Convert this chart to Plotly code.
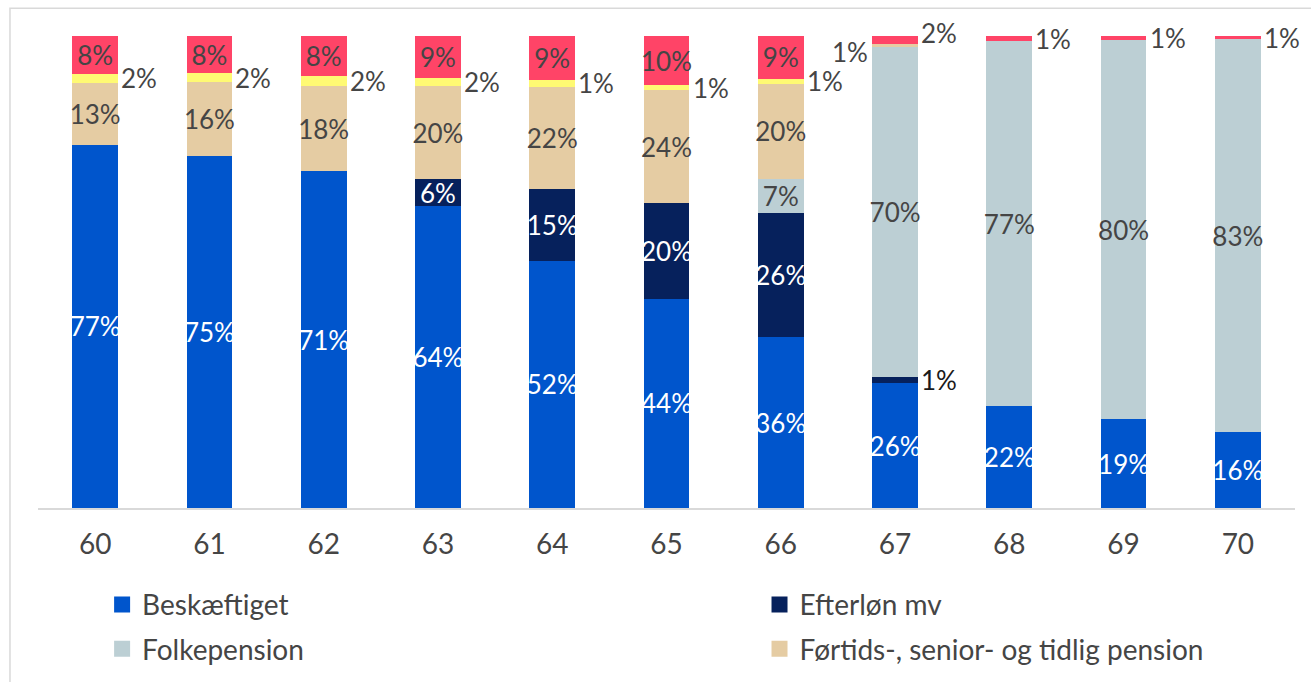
import plotly.graph_objects as go

ages = ["60", "61", "62", "63", "64", "65", "66", "67", "68", "69", "70"]

beskaeftiget = [77.0, 74.6, 71.3, 64.0, 52.4, 44.3, 36.2, 26.4, 21.6, 18.8, 16.1]
efterloen = [0.0, 0.0, 0.0, 5.6, 15.1, 20.3, 26.2, 1.3, 0.0, 0.0, 0.0]
folkepension = [0.0, 0.0, 0.0, 0.0, 0.0, 0.0, 7.3, 70.0, 77.3, 80.3, 83.2]
foertids = [13.0, 15.7, 18.2, 19.8, 21.8, 23.9, 20.2, 0.7, 0.0, 0.0, 0.0]
andet = [2.0, 1.8, 2.1, 1.7, 1.4, 1.1, 1.0, 0.0, 0.0, 0.0, 0.0]
oevrige = [8.0, 7.9, 8.4, 8.9, 9.3, 10.4, 9.1, 1.6, 1.1, 0.9, 0.7]

# name, values, colour, label colour, legend
series = [
    ("Beskæftiget", beskaeftiget, "#0055CC", "white", "legend"),
    ("Efterløn mv", efterloen, "#06215C", "white", "legend2"),
    ("Folkepension", folkepension, "#BCCFD4", "#454545", "legend"),
    ("Førtids-, senior- og tidlig pension", foertids, "#E5CCA3", "#454545", "legend2"),
    ("Øvrige ydelser", andet, "#FFFA73", "#454545", None),
    ("Øvrige", oevrige, "#FF4467", "#454545", None),
]

FONT = "Lato"
FS = 26
fig = go.Figure()

for name, vals, color, tcolor, leg in series:
    txt = [f"{int(v + 0.5)}%" if v >= 3 else "" for v in vals]
    fig.add_trace(go.Bar(
        x=ages, y=vals, name=name, marker_color=color,
        marker_line_width=0,
        text=txt, textposition="inside", insidetextanchor="middle",
        constraintext="none", textangle=0, cliponaxis=False,
        textfont=dict(color=tcolor, size=FS, family=FONT),
        showlegend=False, hoverinfo="skip",
    ))

# legend entries with larger square symbols
for name, vals, color, tcolor, leg in series:
    if leg is None:
        continue
    fig.add_trace(go.Scatter(
        x=[None], y=[None], mode="markers", name=name,
        marker=dict(symbol="square", size=16, color=color),
        legend=leg, legendgroup=name, showlegend=True, hoverinfo="skip",
    ))

# small segment labels placed next to the bars
annotations = []
cum = [0.0] * len(ages)
for si, (name, vals, color, tcolor, leg) in enumerate(series):
    for i, v in enumerate(vals):
        if 0 < v < 3:
            mid = cum[i] + v / 2
            side_left = (si == 3)  # beige small label to the left
            xshift = -25 if side_left else 24
            yshift = 0
            fcol = "#454545"
            if si == 3:
                yshift = -7
            if si == 1:
                fcol = "#1a1a1a"
            if si == 5 and ages[i] == "67":
                yshift = 7
            annotations.append(dict(
                x=i, y=mid, xref="x", yref="y",
                text=f"{int(v + 0.5)}%", showarrow=False,
                xanchor="right" if side_left else "left", yanchor="middle",
                xshift=xshift, yshift=yshift,
                font=dict(size=FS, color=fcol, family=FONT),
            ))
        cum[i] += v

legfont = dict(size=28, color="#454545", family=FONT)
fig.update_layout(
    barmode="stack",
    bargap=0.6,
    width=1311, height=682,
    margin=dict(l=38, r=16, t=36, b=174, autoexpand=False),
    paper_bgcolor="white", plot_bgcolor="white",
    font=dict(family=FONT, color="#454545"),
    annotations=annotations,
    legend=dict(
        orientation="v", x=0.051, y=-0.152, xanchor="left", yanchor="top",
        font=legfont, tracegroupgap=5, traceorder="grouped",
        bgcolor="rgba(0,0,0,0)", itemsizing="trace",
    ),
    legend2=dict(
        orientation="v", x=0.574, y=-0.152, xanchor="left", yanchor="top",
        font=legfont, tracegroupgap=5, traceorder="grouped",
        bgcolor="rgba(0,0,0,0)", itemsizing="trace",
    ),
    shapes=[dict(type="rect", xref="paper", yref="paper",
                 x0=-0.0223, x1=1.03, y0=-0.5, y1=1.059,
                 line=dict(color="#d9d9d9", width=1.5), layer="below")],
)
fig.update_xaxes(type="category", range=[-0.5, len(ages) - 0.5],
                 showline=True, linecolor="#d9d9d9", linewidth=2,
                 ticks="", ticklabelstandoff=10,
                 tickfont=dict(size=28, color="#454545", family=FONT),
                 showgrid=False)
fig.update_yaxes(range=[0, 100], visible=False, showgrid=False)

fig.write_html("out.html")
